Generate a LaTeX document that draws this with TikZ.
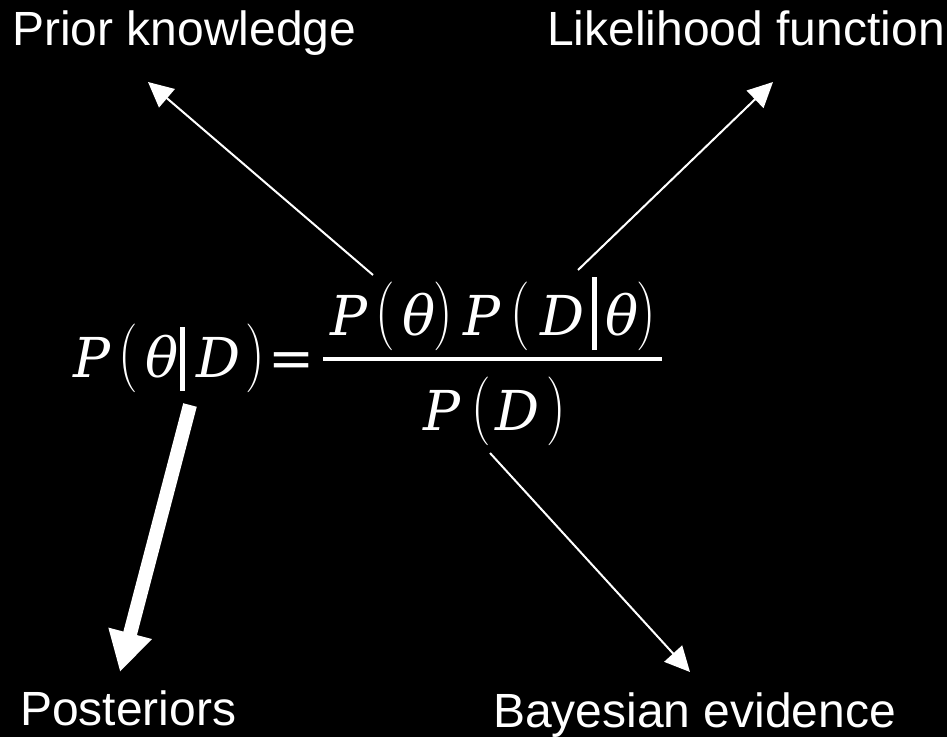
\documentclass[tikz,border=0pt]{standalone}
\usepackage{graphicx}
\usepackage{fontspec}
\setmainfont{Liberation Sans}
\newfontfamily\fml{DejaVu Serif}
\newfontfamily\lmr{Latin Modern Roman}
\usepackage{tikz}
\usetikzlibrary{arrows.meta}

% pieces of the formula, each glyph centred at an offset (pt) from the node start
\newcommand\gl[2]{\rlap{\hspace*{#1pt}\makebox[0pt]{#2}}}
\newcommand\fv[1]{{\fml\itshape #1}}
\newcommand\lpar{\raisebox{2pt}{\scalebox{1}[1.25]{\lmr(}}}
\newcommand\rpar{\raisebox{2pt}{\scalebox{1}[1.25]{\lmr)}}}

\begin{document}
\begin{tikzpicture}[
  x=1pt,y=-1pt,
  label/.style={anchor=base west,inner sep=0pt,font=\fontsize{48}{56}\selectfont,text=white},
  formula/.style={anchor=base west,inner sep=0pt,font=\fontsize{55}{64}\selectfont,text=white},
  thin arrow/.style={draw=white,line width=2pt,-{Triangle[length=25pt,width=24pt]}},
  fat arrow/.style={draw=white,line width=14pt,-{Triangle[length=40pt,width=42pt]}}
]
\fill[black] (0,0) rectangle (947,737);
\useasboundingbox (0,0) rectangle (947,737);

% labels
\node[label] (prior) at (12,45) {Prior knowledge};
\node[label] (likeli) at (547,45) {Likelihood function};
\node[label] (post) at (20,725) {Posteriors};
\node[label] (evid) at (493,727) {Bayesian evidence};

% formula
\node[formula] (lhs) at (72,377) {\gl{19.5}{\fv{P}}\gl{56.5}{\lpar}\gl{89.5}{\fv{θ}}%
  \gl{110.5}{\rule[-14pt]{4.5pt}{64pt}}\gl{146.5}{\fv{D}}\gl{183}{\rpar}\hspace*{190pt}};
\node[formula,anchor=base] (eq) at (291.5,377) {\fml =};
\node[formula] (num) at (329,335) {\gl{19.5}{\fv{P}}\gl{56}{\lpar}\gl{89.5}{\fv{θ}}%
  \gl{114.5}{\rpar}\gl{152.5}{\fv{P}}\gl{191}{\lpar}\gl{233.5}{\fv{D}}%
  \gl{265.5}{\rule[-15pt]{4.5pt}{73pt}}\gl{292.5}{\fv{θ}}\gl{317.5}{\rpar}\hspace*{326pt}};
\node[formula] (den) at (420,430) {\gl{22}{\fv{P}}\gl{61.5}{\lpar}\gl{97.5}{\fv{D}}%
  \gl{136.5}{\rpar}\hspace*{144pt}};
\coordinate (barl) at (323,359);
\coordinate (barr) at (662,359);
\draw[white,line width=4pt] (barl) -- (barr);

% arrow ends
\coordinate (pfrom) at (373,275);
\coordinate (pto) at (148,82);
\coordinate (lfrom) at (578,270);
\coordinate (lto) at (773,82);
\coordinate (efrom) at (490,453);
\coordinate (eto) at (690,672);
\coordinate (qfrom) at (190,405);
\coordinate (qto) at (120,672);

\draw[thin arrow] (pfrom) -- (pto);
\draw[thin arrow] (lfrom) -- (lto);
\draw[thin arrow] (efrom) -- (eto);
\draw[fat arrow] (qfrom) -- (qto);
\end{tikzpicture}
\end{document}
